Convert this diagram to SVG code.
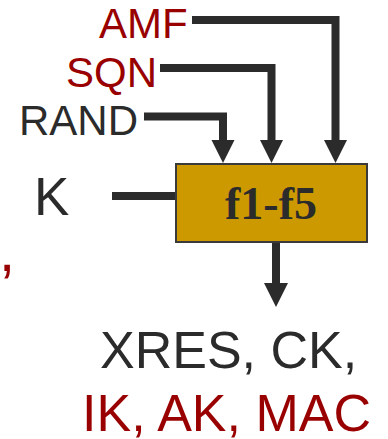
<svg xmlns="http://www.w3.org/2000/svg" width="388" height="439" viewBox="0 0 388 439">
  <style>
    .lbl { font-family: "Liberation Sans", Arial, sans-serif; }
    .dark { fill: #2b2b2b; }
    .red { fill: #990000; }
    .wire { fill: none; stroke: #2b2b2b; stroke-width: 8; stroke-linejoin: miter; stroke-linecap: butt; }
    .head { fill: #2b2b2b; }
    .box { fill: #CC9900; stroke: #3a3a3a; stroke-width: 2; }
    .fn { font-family: "Liberation Serif", "Times New Roman", serif; font-weight: bold; font-size: 46px; fill: #2b2b2b; }
  </style>
  <g id="connectors">
    <polyline class="wire" points="192,20 335.5,20 335.5,141"/>
    <polygon class="head" points="324,140 347,140 335.5,163"/>
    <polyline class="wire" points="160,68 271.5,68 271.5,141"/>
    <polygon class="head" points="260,140 283,140 271.5,163"/>
    <polyline class="wire" points="144,116.5 223,116.5 223,141"/>
    <polygon class="head" points="211.5,140 234.5,140 223,163"/>
    <line class="wire" x1="112" y1="196" x2="176" y2="196"/>
    <line class="wire" x1="276" y1="243" x2="276" y2="284"/>
    <polygon class="head" points="264,283 288,283 276,307"/>
  </g>
  <g id="amf"><text class="lbl red" x="99" y="38" font-size="42">AMF</text></g>
  <g id="sqn"><text class="lbl red" x="66" y="87" font-size="42">SQN</text></g>
  <g id="rand"><text class="lbl dark" x="19" y="135" font-size="42">RAND</text></g>
  <g id="k"><text class="lbl dark" x="34" y="215" font-size="53">K</text></g>
  <g id="f1f5">
    <rect class="box" x="176" y="164" width="191" height="78"/>
    <text class="fn" x="271" y="219" text-anchor="middle">f1-f5</text>
  </g>
  <g id="outputs">
    <text class="lbl dark" x="100" y="368" font-size="52">XRES, CK,</text>
    <text class="lbl red" x="82" y="431" font-size="52">IK, AK, MAC</text>
  </g>
  <g id="comma"><text class="lbl red" x="-1" y="271" font-size="58">,</text></g>
</svg>
